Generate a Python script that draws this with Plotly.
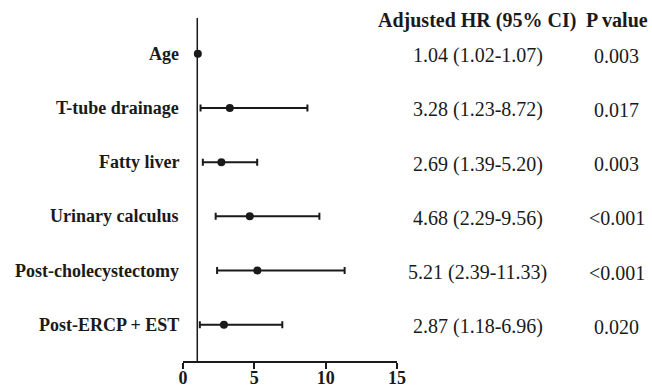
import plotly.graph_objects as go

labels = ["Age", "T-tube drainage", "Fatty liver", "Urinary calculus",
          "Post-cholecystectomy", "Post-ERCP + EST"]
hr = [1.04, 3.28, 2.69, 4.68, 5.21, 2.87]
lower = [1.02, 1.23, 1.39, 2.29, 2.39, 1.18]
upper = [1.07, 8.72, 5.20, 9.56, 11.33, 6.96]
hr_text = ["1.04 (1.02-1.07)", "3.28 (1.23-8.72)", "2.69 (1.39-5.20)",
           "4.68 (2.29-9.56)", "5.21 (2.39-11.33)", "2.87 (1.18-6.96)"]
p_text = ["0.003", "0.017", "0.003", "<0.001", "<0.001", "0.020"]
x_ticks = [0, 5, 10, 15]

n = len(labels)
ypos = [n - i for i in range(n)]
FONT = "Liberation Serif, Times New Roman, serif"
INK = "#1a1a1a"

fig = go.Figure()
fig.add_trace(go.Scatter(
    x=hr, y=ypos, mode="markers",
    marker=dict(size=8, color=INK),
    error_x=dict(type="data", symmetric=False,
                 array=[u - h for u, h in zip(upper, hr)],
                 arrayminus=[h - l for h, l in zip(hr, lower)],
                 color=INK, thickness=2, width=3.5),
    showlegend=False, hoverinfo="skip"))

# reference line at HR = 1
fig.add_shape(type="line", x0=1, x1=1, y0=0, y1=1, xref="x", yref="paper",
              line=dict(color=INK, width=1.5))

ann = []
for lab, y, ht, pt in zip(labels, ypos, hr_text, p_text):
    ann.append(dict(x=0, xref="paper", y=y, yref="y", text="<b>%s</b>" % lab,
                    xanchor="right", yanchor="middle", xshift=-2, showarrow=False,
                    font=dict(family=FONT, size=18, color=INK)))
    ann.append(dict(x=1.378, xref="paper", y=y, yref="y", text=ht,
                    xanchor="center", yanchor="middle", yshift=-2, showarrow=False,
                    font=dict(family=FONT, size=20, color=INK)))
    ann.append(dict(x=2.028, xref="paper", y=y, yref="y", text=pt,
                    xanchor="center", yanchor="middle", yshift=-2, showarrow=False,
                    font=dict(family=FONT, size=20, color=INK)))
ann.append(dict(x=1.375, xref="paper", y=1, yref="paper",
                text="<b>Adjusted HR (95% CI)</b>", xanchor="center", yanchor="middle",
                yshift=-2, showarrow=False, font=dict(family=FONT, size=20, color=INK)))
ann.append(dict(x=2.03, xref="paper", y=1, yref="paper",
                text="<b>P value</b>", xanchor="center", yanchor="middle",
                yshift=-2, showarrow=False, font=dict(family=FONT, size=20, color=INK)))

fig.update_layout(
    width=652, height=389,
    margin=dict(l=183, r=255, t=18, b=28, autoexpand=False),
    paper_bgcolor="white", plot_bgcolor="white",
    annotations=ann,
    xaxis=dict(range=[0, 15], tickvals=x_ticks, ticktext=["<b>%d</b>" % t for t in x_ticks],
               showgrid=False, zeroline=False, showline=True, linecolor=INK,
               linewidth=1.5, ticks="outside", ticklen=6, tickwidth=1.5, tickcolor=INK,
               automargin=False, ticklabelstandoff=-6,
               tickfont=dict(family=FONT, size=18, color=INK)),
    yaxis=dict(range=[0.33, 6.66], showgrid=False, zeroline=False, showline=False,
               showticklabels=False, ticks="", automargin=False),
)
fig.write_html("out.html")
